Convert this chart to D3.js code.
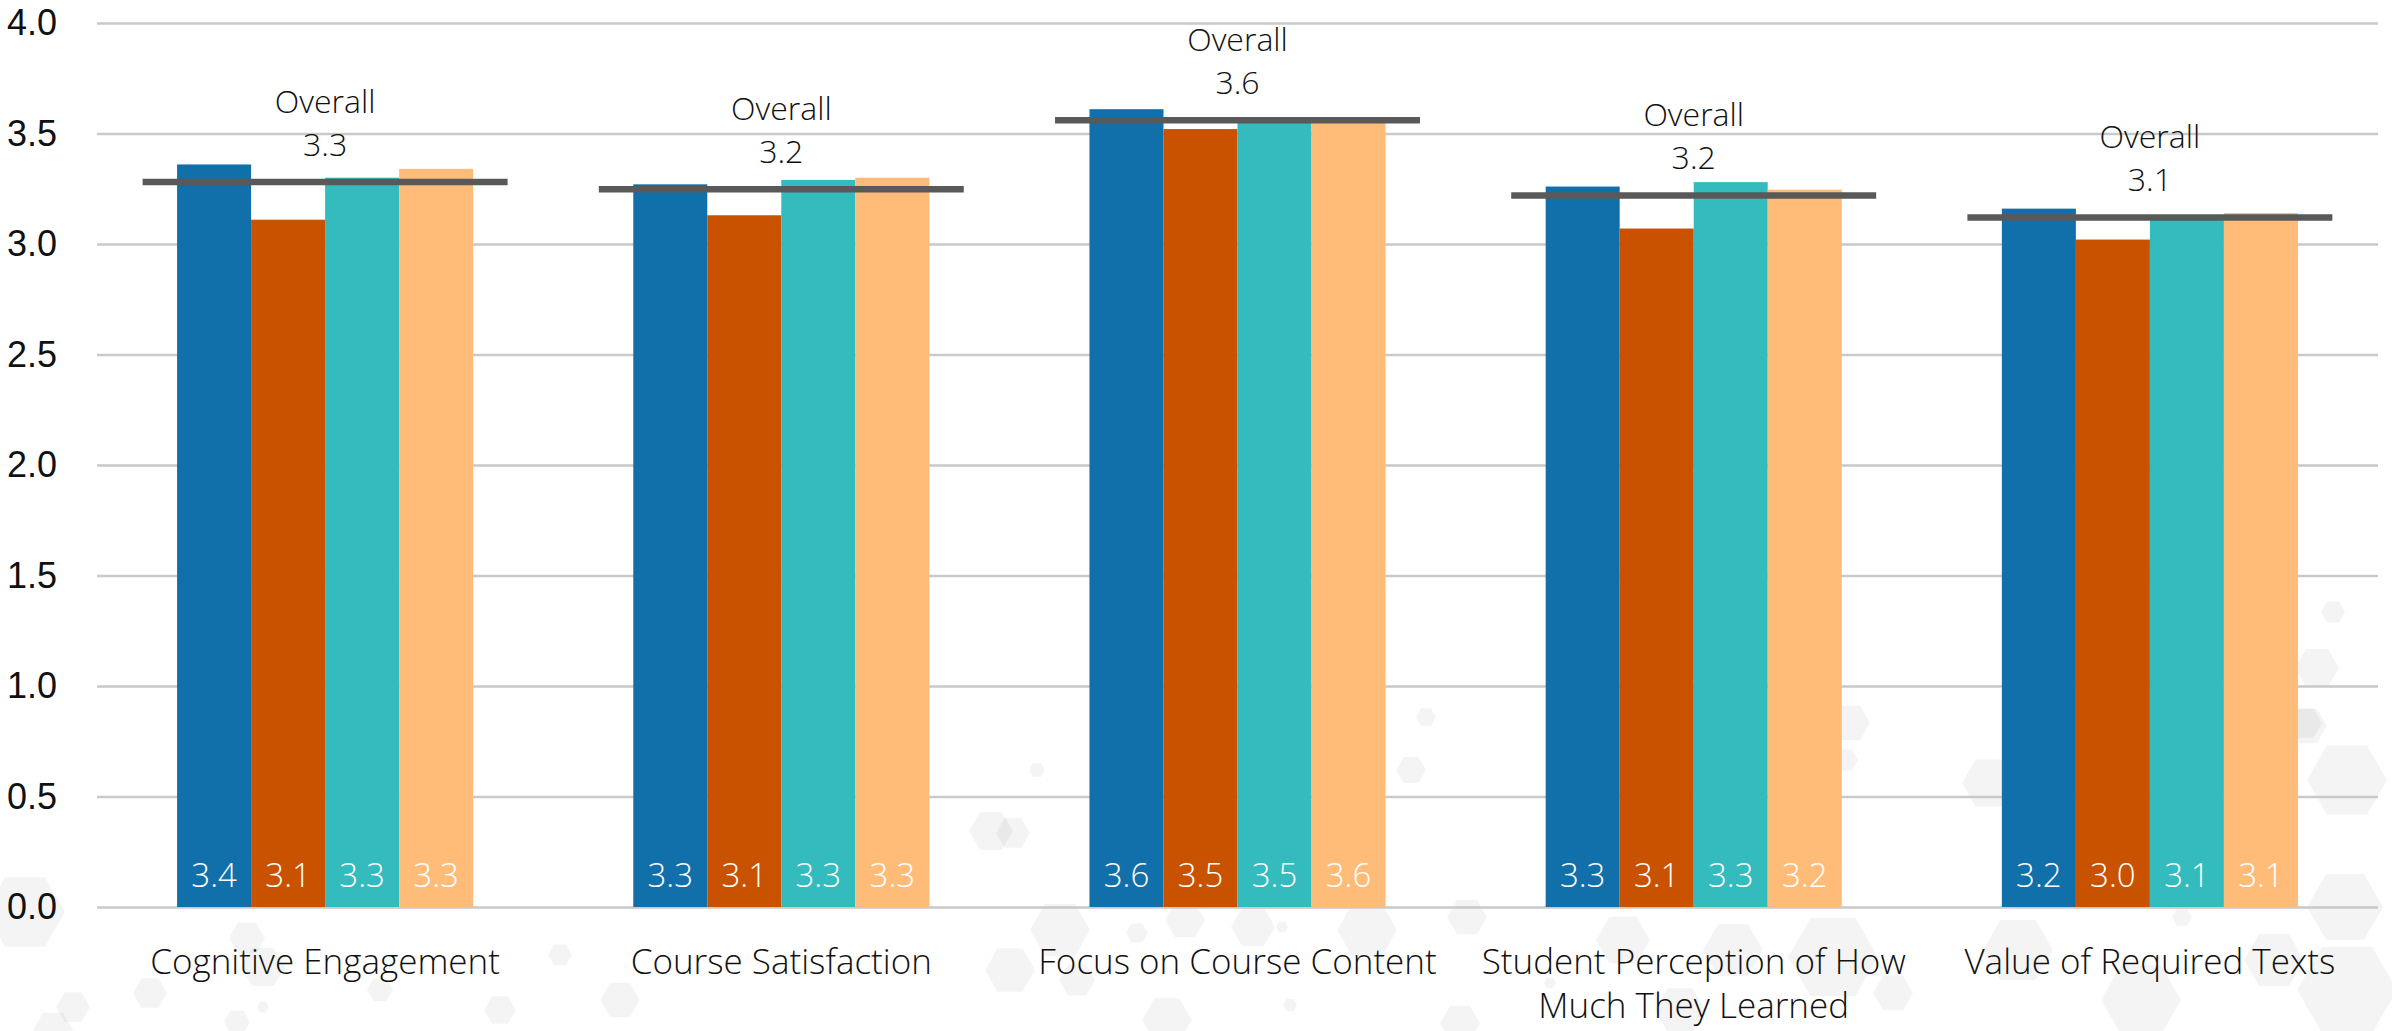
<!DOCTYPE html>
<html>
<head>
<meta charset="utf-8">
<script src="https://cdn.jsdelivr.net/npm/d3@7/dist/d3.min.js"></script>
<style>
  html, body { margin: 0; padding: 0; background: #fff; }
  svg { display: block; font-family: "Segoe UI", "Open Sans", sans-serif; font-weight: 300; }
</style>
</head>
<body>
<div id="chart"></div>
<script>
/* Médias por dimensão, quatro grupos + linha "Overall" por categoria. */

const categories = [
  "Cognitive Engagement",
  "Course Satisfaction",
  "Focus on Course Content",
  "Student Perception of How Much They Learned",
  "Value of Required Texts"
];

const seriesKeys = ["groupA", "groupB", "groupC", "groupD"];

const groupA = [3.36, 3.27, 3.61, 3.26, 3.16];
const groupB = [3.11, 3.13, 3.52, 3.07, 3.02];
const groupC = [3.30, 3.29, 3.548, 3.28, 3.12];
const groupD = [3.34, 3.30, 3.556, 3.246, 3.14];

const overallValues = [3.28, 3.248, 3.56, 3.22, 3.12];

const yTicks = [0, 0.5, 1.0, 1.5, 2.0, 2.5, 3.0, 3.5, 4.0];

// background decoration only (light hexagons), not data: [cx, cy, r]
const bgHexes = [
  [25, 912, 40], [247, 938, 18], [150, 993, 17], [73, 1007, 17], [263, 1007, 6],
  [237, 1022, 13], [380, 990, 13], [53, 1030, 20], [263, 967, 22], [500, 1010, 16],
  [560, 955, 12], [620, 1000, 20], [900, 854, 18], [991, 831, 22], [1037, 770, 8],
  [1013, 833, 17], [1060, 930, 30], [1137, 933, 11], [1185, 920, 20], [1253, 927, 22],
  [1282, 927, 6], [1077, 980, 18], [1010, 970, 25], [1290, 1005, 7], [1167, 1020, 25],
  [1367, 930, 30], [1426, 717, 10], [1411, 770, 15], [1467, 917, 20], [1623, 940, 27],
  [1733, 950, 30], [1833, 957, 45], [1550, 983, 6], [1460, 1023, 20], [1893, 993, 20],
  [1680, 1010, 25], [1850, 723, 20], [1846, 760, 12], [1989, 783, 27], [2018, 950, 35],
  [2141, 1000, 40], [2274, 960, 30], [2182, 917, 10], [2333, 612, 12], [2317, 668, 22],
  [2307, 726, 20], [2347, 780, 40], [2345, 907, 38], [2347, 990, 50], [2305, 723, 17]
];

const COLORS = {
  groupA: "#1170aa",
  groupB: "#c85200",
  groupC: "#33bbbd",
  groupD: "#ffbc79",
  overall: "#595959",
  grid: "#c9c9c9",
  text: "#111111"
};

const width = 2392;
const height = 1031;
const margin = { top: 23, right: 14, bottom: 124, left: 97 };

const rows = categories.map((c, i) => ({
  category: c,
  groupA: groupA[i],
  groupB: groupB[i],
  groupC: groupC[i],
  groupD: groupD[i],
  overall: overallValues[i]
}));

const svg = d3.select("#chart")
  .append("svg")
  .attr("width", width)
  .attr("height", height)
  .attr("viewBox", `0 0 ${width} ${height}`);

// hexagon pattern in the background
const hexPath = (r) => d3.range(6).map((k) => {
  const a = (Math.PI / 3) * k;
  return [r * Math.cos(a), r * Math.sin(a)];
});
svg.append("g")
  .selectAll("path")
  .data(bgHexes)
  .join("path")
  .attr("transform", (d) => `translate(${d[0]},${d[1]})`)
  .attr("d", (d) => "M" + hexPath(d[2]).join("L") + "Z")
  .attr("fill", "#000")
  .attr("fill-opacity", 0.045);

const innerW = width - margin.left - margin.right;
const innerH = height - margin.top - margin.bottom;

const g = svg.append("g").attr("transform", `translate(${margin.left},${margin.top})`);

const x0 = d3.scaleBand().domain(categories).range([0, innerW]).padding(0);
const clusterW = x0.bandwidth() * 0.649;
const x1 = d3.scaleBand().domain(seriesKeys).range([0, clusterW]).padding(0);
const y = d3.scaleLinear().domain([0, 4]).range([innerH, 0]);
const fmt = d3.format(".1f");

// y axis + gridlines
g.append("g")
  .call(d3.axisLeft(y).tickValues(yTicks).tickFormat(fmt).tickSize(-innerW).tickPadding(40))
  .call((sel) => sel.select(".domain").remove())
  .call((sel) => sel.selectAll(".tick line").attr("stroke", COLORS.grid).attr("stroke-width", 2.5))
  .call((sel) => sel.selectAll(".tick text")
    .attr("fill", COLORS.text)
    .attr("font-size", 36)
    .attr("font-family", null)
    .attr("font-weight", 300));

// clusters
const clusters = g.selectAll("g.cluster")
  .data(rows)
  .join("g")
  .attr("class", "cluster")
  .attr("transform", (d) => `translate(${x0(d.category) + (x0.bandwidth() - clusterW) / 2},0)`);

clusters.selectAll("rect")
  .data((d) => seriesKeys.map((k) => ({ key: k, value: d[k] })))
  .join("rect")
  .attr("x", (d) => x1(d.key))
  .attr("width", x1.bandwidth())
  .attr("y", (d) => y(d.value))
  .attr("height", (d) => innerH - y(d.value))
  .attr("fill", (d) => COLORS[d.key]);

// value labels inside bars, near the base
clusters.selectAll("text.val")
  .data((d) => seriesKeys.map((k) => ({ key: k, value: d[k] })))
  .join("text")
  .attr("class", "val")
  .attr("x", (d) => x1(d.key) + x1.bandwidth() / 2)
  .attr("y", innerH - 20)
  .attr("text-anchor", "middle")
  .attr("fill", "#fff")
  .attr("font-size", 33)
  .text((d) => fmt(d.value));

// overall line and label
const overall = g.selectAll("g.overall")
  .data(rows)
  .join("g")
  .attr("class", "overall")
  .attr("transform", (d) => `translate(${x0(d.category) + x0.bandwidth() / 2},${y(d.overall)})`);

overall.append("line")
  .attr("x1", -x0.bandwidth() * 0.4)
  .attr("x2", x0.bandwidth() * 0.4)
  .attr("stroke", COLORS.overall)
  .attr("stroke-width", 6.5);

overall.append("text")
  .attr("y", -69)
  .attr("text-anchor", "middle")
  .attr("fill", COLORS.text)
  .attr("font-size", 32)
  .text("Overall");

overall.append("text")
  .attr("y", -26)
  .attr("text-anchor", "middle")
  .attr("fill", COLORS.text)
  .attr("font-size", 32)
  .text((d) => fmt(d.overall));

// category labels, wrapped to the slot width
const catLabels = g.selectAll("text.cat")
  .data(rows)
  .join("text")
  .attr("class", "cat")
  .attr("x", (d) => x0(d.category) + x0.bandwidth() / 2)
  .attr("y", innerH + 67)
  .attr("text-anchor", "middle")
  .attr("fill", COLORS.text)
  .attr("font-size", 35);

catLabels.each(function (d) {
  const el = d3.select(this);
  const words = d.category.split(" ");
  const maxW = x0.bandwidth() * 0.93;
  let line = [];
  let tspan = el.append("tspan").attr("x", el.attr("x")).attr("dy", 0);
  words.forEach((w) => {
    line.push(w);
    tspan.text(line.join(" "));
    if (tspan.node().getComputedTextLength() > maxW && line.length > 1) {
      line.pop();
      tspan.text(line.join(" "));
      line = [w];
      tspan = el.append("tspan").attr("x", el.attr("x")).attr("dy", 44).text(w);
    }
  });
});
</script>
</body>
</html>
